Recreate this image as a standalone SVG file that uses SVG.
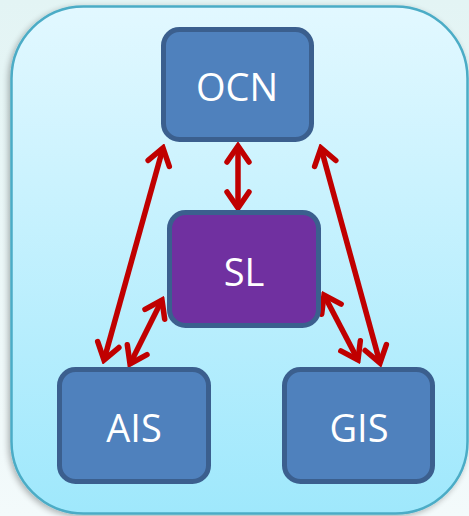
<svg xmlns="http://www.w3.org/2000/svg" width="469" height="516" viewBox="0 0 469 516">
  <defs>
    <linearGradient id="bg" x1="0" y1="0" x2="0" y2="1">
      <stop offset="0" stop-color="#e3f4f4"/>
      <stop offset="1" stop-color="#f3fafb"/>
    </linearGradient>
    <linearGradient id="panel" x1="0" y1="0" x2="0" y2="1">
      <stop offset="0" stop-color="#e2f8ff"/>
      <stop offset="1" stop-color="#9fe8fc"/>
    </linearGradient>
    <filter id="sh" x="-10%" y="-10%" width="120%" height="120%">
      <feGaussianBlur in="SourceAlpha" stdDeviation="3"/>
      <feOffset dx="-2" dy="2" result="b"/>
      <feComponentTransfer><feFuncA type="linear" slope="0.3"/></feComponentTransfer>
      <feMerge><feMergeNode/><feMergeNode in="SourceGraphic"/></feMerge>
    </filter>
    <marker id="ah" markerUnits="userSpaceOnUse" viewBox="-22 -16 26 32" refX="0" refY="0" markerWidth="26" markerHeight="32" orient="auto-start-reverse">
      <path d="M-16,-11 L0,0 L-16,11" fill="none" stroke="#c00000" stroke-width="5.5" stroke-linecap="round" stroke-linejoin="miter"/>
    </marker>
  </defs>
  <style>
    .node { stroke: #3b5f8e; stroke-width: 5; }
    .blue { fill: #4f81bd; }
    .purple { fill: #7030a0; }
    .lbl { font-family: "Open Sans", "Liberation Sans", sans-serif; font-size: 38px; fill: #ffffff; text-anchor: middle; }
    .arr { stroke: #c00000; stroke-width: 5.5; fill: none; marker-start: url(#ah); marker-end: url(#ah); }
  </style>
  <rect x="0" y="0" width="469" height="516" fill="url(#bg)"/>
  <rect id="panel-box" x="11.5" y="6.5" width="456" height="507" rx="72" ry="72" fill="url(#panel)" stroke="#4bacc6" stroke-width="2.5" filter="url(#sh)"/>
  <g id="connectors">
    <line class="arr" x1="238" y1="146" x2="238" y2="208"/>
    <line class="arr" x1="163" y1="148" x2="104" y2="360"/>
    <line class="arr" x1="162" y1="300" x2="130" y2="364"/>
    <line class="arr" x1="321" y1="148" x2="380" y2="363"/>
    <line class="arr" x1="324" y1="295" x2="358" y2="360"/>
  </g>
  <g id="OCN">
    <rect class="node blue" x="163.5" y="29.5" width="148" height="110" rx="16"/>
    <text class="lbl" x="237" y="101">OCN</text>
  </g>
  <g id="SL">
    <rect class="node purple" x="169.5" y="212.5" width="149" height="113" rx="16"/>
    <text class="lbl" x="244" y="286">SL</text>
  </g>
  <g id="AIS">
    <rect class="node blue" x="59.5" y="369.5" width="149" height="112" rx="16"/>
    <text class="lbl" x="134" y="442">AIS</text>
  </g>
  <g id="GIS">
    <rect class="node blue" x="284.5" y="369.5" width="148" height="112" rx="16"/>
    <text class="lbl" x="359" y="442">GIS</text>
  </g>
</svg>
